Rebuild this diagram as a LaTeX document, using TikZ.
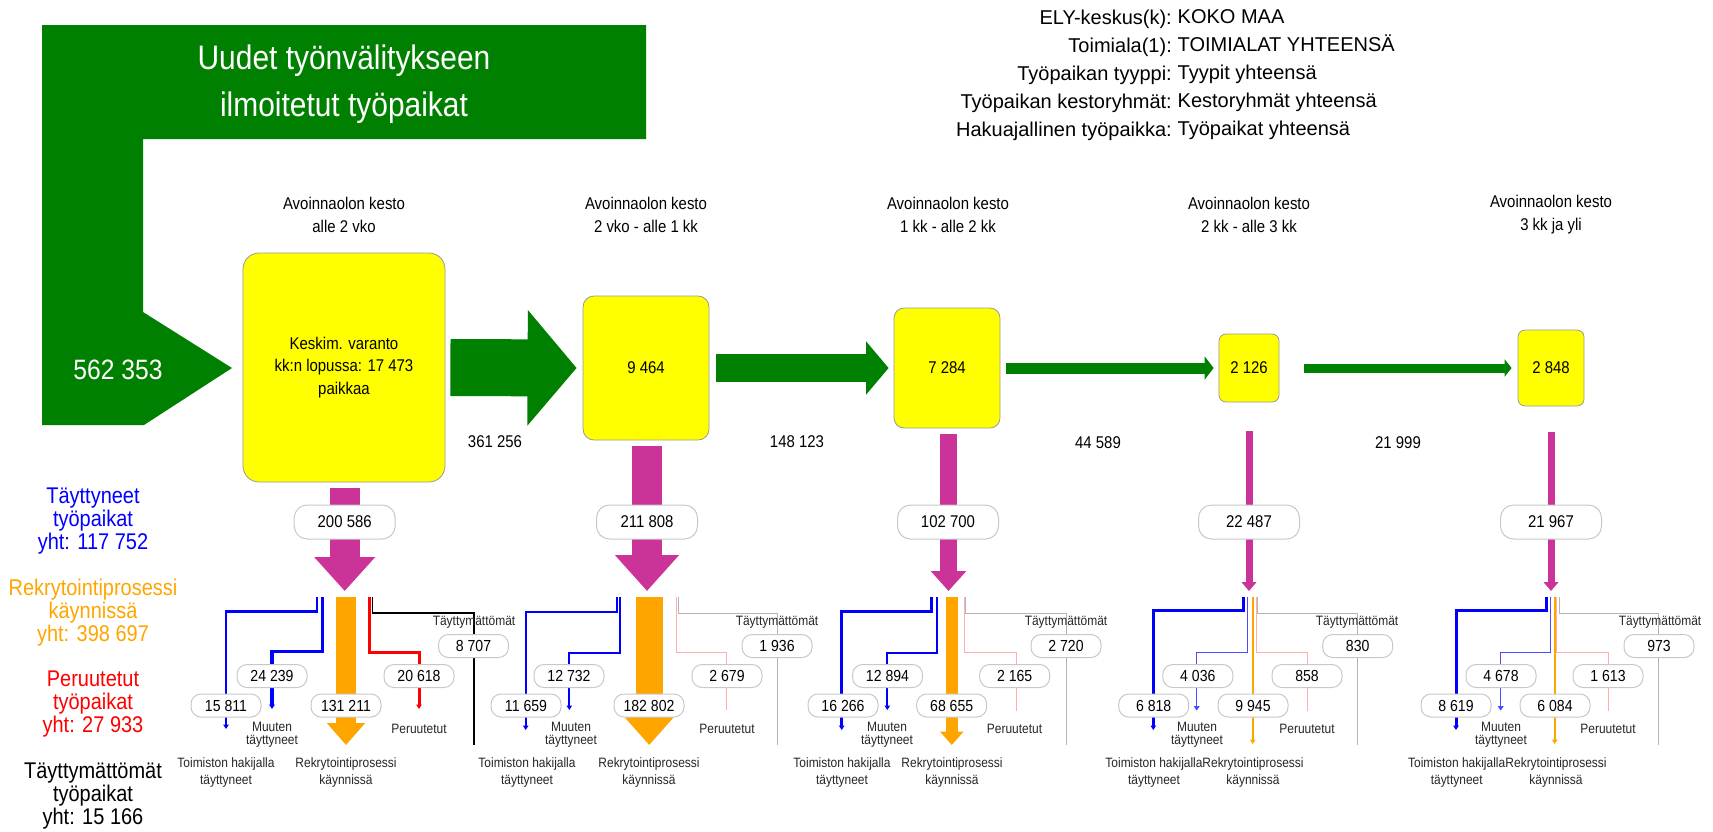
\documentclass[tikz,border=0pt]{standalone}
\usepackage{fontspec}
\setmainfont[FakeStretch=0.88]{Liberation Sans}
\newfontfamily\plainfont{Liberation Sans}
\usetikzlibrary{arrows.meta}
\definecolor{grn}{RGB}{0,128,0}
\definecolor{mag}{RGB}{204,51,153}
\definecolor{yel}{RGB}{255,255,0}
\definecolor{org}{RGB}{255,165,0}
\definecolor{blu}{RGB}{0,0,255}
\definecolor{rd}{RGB}{255,0,0}
\definecolor{pnk}{RGB}{255,175,175}
\definecolor{lgray}{RGB}{180,180,180}
\definecolor{boxline}{RGB}{200,200,200}
\newcommand\brpath[6]{%
  \coordinate (#2s) at (#3,597);
  \coordinate (#2e) at (#5,#6);
  \draw[#1] (#2s) -- (#3,#4) -- (#5,#4) -- (#2e);}
\begin{document}
\begin{tikzpicture}[x=1pt,y=-1pt,
  ybox/.style={draw=black!40, line width=0.8pt, fill=yel, inner sep=0pt, align=center, font=\fontsize{17}{22.5}\selectfont},
  biglab/.style={draw=boxline, line width=1pt, fill=white, rounded corners=13pt, minimum width=101pt, minimum height=34pt, inner sep=0pt, font=\fontsize{17}{18}\selectfont},
  smalllab/.style={draw=boxline, line width=1pt, fill=white, rounded corners=10pt, minimum width=70pt, minimum height=23pt, inner sep=0pt, font=\fontsize{16}{16}\selectfont},
  hdr/.style={align=center, font=\fontsize{17}{23}\selectfont},
  flowlab/.style={font=\fontsize{17}{18}\selectfont},
  smalltxt/.style={align=center, text=black!85, font=\fontsize{13.6}{17}\selectfont},
  tighttxt/.style={align=center, text=black!85, font=\fontsize{13.6}{12.7}\selectfont},
  legend/.style={align=center, font=\fontsize{22.7}{22.7}\selectfont},
  meta/.style={inner sep=0pt, font=\plainfont\fontsize{20}{28}\selectfont},
  arrtip/.style={-{Triangle[width=5.5pt,length=4.5pt]}},
  bluebr/.style={draw=blu, line join=miter},
  redbr/.style={draw=rd, line join=miter},
  pinkbr/.style={draw=pnk, line width=1pt, line join=miter},
  graybr/.style={draw=lgray, line width=1pt, line join=miter},
  greenarrow/.style={draw=grn},
  magarrow/.style={draw=mag},
  orgarrow/.style={draw=org}
]
\useasboundingbox (0,0) rectangle (1713,831);

% big green inflow shape
\fill[grn] (42,25) -- (646,25) -- (646,139) -- (143,139) -- (143,312) -- (232,368) -- (144,425) -- (42,425) -- cycle;
\node[text=white, align=center, font=\fontsize{34}{47}\selectfont] (title) at (344,84) {Uudet työnvälitykseen\\ilmoitetut työpaikat};
\node[text=white, font=\fontsize{28}{30}\selectfont] (total) at (118,370) {562 353};

% top right meta
\node[meta, anchor=east, align=right] (metaL) at (1172,75) {ELY-keskus(k):\\Toimiala(1):\\Työpaikan tyyppi:\\Työpaikan kestoryhmät:\\Hakuajallinen työpaikka:};
\node[meta, anchor=west, align=left] (metaR) at (1177.5,75) {KOKO MAA\\TOIMIALAT YHTEENSÄ\\Tyypit yhteensä\\Kestoryhmät yhteensä\\Työpaikat yhteensä};

% column headers
\node[hdr] (h1) at (344,214.5) {Avoinnaolon kesto\\alle 2 vko};
\node[hdr] (h2) at (646,214.5) {Avoinnaolon kesto\\2 vko - alle 1 kk};
\node[hdr] (h3) at (948,214.5) {Avoinnaolon kesto\\1 kk - alle 2 kk};
\node[hdr] (h4) at (1249,214.5) {Avoinnaolon kesto\\2 kk - alle 3 kk};
\node[hdr] (h5) at (1551,214.5) {Avoinnaolon kesto\\3 kk ja yli};

% yellow boxes
\node[ybox, rounded corners=16pt, minimum width=202pt, minimum height=229pt] (y1) at (344,367.5) {Keskim. varanto\\kk:n lopussa: 17 473\\paikkaa};
\node[ybox, rounded corners=11pt, minimum width=126pt, minimum height=144pt] (y2) at (646,368) {9 464};
\node[ybox, rounded corners=10pt, minimum width=106pt, minimum height=120pt] (y3) at (947,368) {7 284};
\node[ybox, rounded corners=7pt, minimum width=60pt, minimum height=68pt] (y4) at (1249,368) {2 126};
\node[ybox, rounded corners=7pt, minimum width=66pt, minimum height=76pt] (y5) at (1551,368) {2 848};

% green flow arrows
\draw[greenarrow, line width=57pt, -{Triangle[width=113pt,length=49pt]}] ([xshift=5pt]y1.east) -- ([xshift=-6pt]y2.west);
\draw[greenarrow, line width=28pt, -{Triangle[width=52pt,length=22.5pt]}] ([xshift=7pt]y2.east) -- ([xshift=-5pt]y3.west);
\draw[greenarrow, line width=11pt, -{Triangle[width=23pt,length=9pt]}] ([xshift=6pt]y3.east) -- ([xshift=-5pt]y4.west);
\draw[greenarrow, line width=9pt, -{Triangle[width=17pt,length=7pt]}] ([xshift=25pt]y4.east) -- ([xshift=-6pt]y5.west);

\node[flowlab] (f1) at (495,442) {361 256};
\node[flowlab] (f2) at (797,442) {148 123};
\node[flowlab] (f3) at (1098,443) {44 589};
\node[flowlab] (f4) at (1398,443) {21 999};

% magenta outflow arrows
\coordinate (m1e) at (344.7,591);
\coordinate (m2e) at (647,591);
\coordinate (m3e) at (948.5,591);
\coordinate (m4e) at (1249,591);
\coordinate (m5e) at (1551,591);
\draw[magarrow, line width=30pt, -{Triangle[width=59pt,length=34pt]}] ([xshift=0.7pt,yshift=-6pt]y1.south) -- (m1e);
\draw[magarrow, line width=30pt, -{Triangle[width=62pt,length=36pt]}] ([xshift=1pt,yshift=-6pt]y2.south) -- (m2e);
\draw[magarrow, line width=17pt, -{Triangle[width=34.4pt,length=20pt]}] ([xshift=1.5pt,yshift=-6pt]y3.south) -- (m3e);
\draw[magarrow, line width=7pt, -{Triangle[width=14.6pt,length=9pt]}] ([yshift=-29pt]y4.south) -- (m4e);
\draw[magarrow, line width=7pt, -{Triangle[width=14.6pt,length=9pt]}] ([yshift=-26pt]y5.south) -- (m5e);

\node[biglab] (o1) at (344.7,522) {200 586};
\node[biglab] (o2) at (647,522) {211 808};
\node[biglab] (o3) at (948,522) {102 700};
\node[biglab] (o4) at (1249,522) {22 487};
\node[biglab] (o5) at (1551,522) {21 967};

% ---------- column 1 branches
\brpath{bluebr, line width=2.5pt, arrtip}{c1a}{317}{611.5}{226}{729}
\brpath{bluebr, line width=3.5pt, arrtip}{c1b}{322.5}{651.5}{272}{709}
\brpath{redbr, line width=3pt, arrtip}{c1d}{369}{652}{419}{709}
\brpath{draw=black, line width=1.3pt, line join=miter}{c1u}{372.7}{613}{474}{745}
\coordinate (c1os) at (346,597); \coordinate (c1oe) at (346,745);
\draw[orgarrow, line width=20pt, -{Triangle[width=37pt,length=22pt]}] (c1os) -- (c1oe);
% ---------- column 2
\brpath{bluebr, line width=2pt, arrtip}{c2a}{616.7}{611.7}{525.7}{730}
\brpath{bluebr, line width=2pt, arrtip}{c2b}{620}{652.7}{569.3}{710}
\brpath{pinkbr}{c2d}{676.7}{652.7}{726.7}{710}
\brpath{graybr}{c2u}{678}{613}{777}{745}
\coordinate (c2os) at (649.2,597); \coordinate (c2oe) at (649.2,745);
\draw[orgarrow, line width=27pt, -{Triangle[width=48.3pt,length=28.3pt]}] (c2os) -- (c2oe);
% ---------- column 3
\brpath{bluebr, line width=2.5pt, arrtip}{c3a}{931.7}{611.7}{841.7}{730}
\brpath{bluebr, line width=2pt, arrtip}{c3b}{937.3}{652.7}{887.3}{710}
\brpath{pinkbr}{c3d}{964}{652.7}{1016}{710.7}
\brpath{graybr}{c3u}{965.5}{613.3}{1066}{745}
\coordinate (c3os) at (951.8,597); \coordinate (c3oe) at (951.8,745);
\draw[orgarrow, line width=11.7pt, -{Triangle[width=22.6pt,length=13.3pt]}] (c3os) -- (c3oe);
% ---------- column 4
\brpath{bluebr, line width=2.5pt, arrtip}{c4a}{1243.3}{610.7}{1153.3}{730}
\brpath{draw=blu!70, line width=1.5pt, line join=miter, arrtip}{c4b}{1247.3}{652.7}{1196.7}{710.7}
\brpath{pinkbr}{c4d}{1256}{652.7}{1307.3}{710.7}
\brpath{graybr}{c4u}{1257.7}{613.3}{1357.3}{745}
\coordinate (c4os) at (1252.7,597); \coordinate (c4oe) at (1252.7,744);
\draw[orgarrow, line width=2pt, arrtip] (c4os) -- (c4oe);
% ---------- column 5
\brpath{bluebr, line width=3pt, arrtip}{c5a}{1546.7}{610.7}{1456}{730}
\brpath{draw=blu!70, line width=1.5pt, line join=miter, arrtip}{c5b}{1550.7}{652.7}{1500.7}{710.7}
\brpath{pinkbr}{c5d}{1556.7}{652.7}{1608.3}{710.7}
\brpath{graybr}{c5u}{1559}{613.3}{1658.7}{745}
\coordinate (c5os) at (1554.7,597); \coordinate (c5oe) at (1554.7,744);
\draw[orgarrow, line width=2pt, arrtip] (c5os) -- (c5oe);

% ---------- lower labels
\node[smalllab] (l1a) at (226,705.5) {15 811};
\node[smalllab] (l1b) at (272,676) {24 239};
\node[smalllab] (l1o) at (346,705.5) {131 211};
\node[smalllab] (l1d) at (419,676) {20 618};
\node[smalllab] (l1u) at (473.5,646) {8 707};
\node[smalllab] (l2a) at (526,705.5) {11 659};
\node[smalllab] (l2b) at (569,676) {12 732};
\node[smalllab] (l2o) at (649,705.5) {182 802};
\node[smalllab] (l2d) at (727,676) {2 679};
\node[smalllab] (l2u) at (777,646) {1 936};
\node[smalllab] (l3a) at (843,705.5) {16 266};
\node[smalllab] (l3b) at (887.5,676) {12 894};
\node[smalllab] (l3o) at (951.7,705.5) {68 655};
\node[smalllab] (l3d) at (1014.7,676) {2 165};
\node[smalllab] (l3u) at (1066,646) {2 720};
\node[smalllab] (l4a) at (1153.7,705.5) {6 818};
\node[smalllab] (l4b) at (1197.8,676) {4 036};
\node[smalllab] (l4o) at (1253,705.5) {9 945};
\node[smalllab] (l4d) at (1307,676) {858};
\node[smalllab] (l4u) at (1357.7,646) {830};
\node[smalllab] (l5a) at (1456,705.5) {8 619};
\node[smalllab] (l5b) at (1501,676) {4 678};
\node[smalllab] (l5o) at (1555,705.5) {6 084};
\node[smalllab] (l5d) at (1608,676) {1 613};
\node[smalllab] (l5u) at (1659,646) {973};

% ---------- lower texts
\node[smalltxt] (u1) at (474,622) {Täyttymättömät};
\node[smalltxt] (u2) at (777,622) {Täyttymättömät};
\node[smalltxt] (u3) at (1066,622) {Täyttymättömät};
\node[smalltxt] (u4) at (1357,622) {Täyttymättömät};
\node[smalltxt] (u5) at (1660,622) {Täyttymättömät};
\node[tighttxt] (mu1) at (272,735) {Muuten\\täyttyneet};
\node[tighttxt] (mu2) at (571,735) {Muuten\\täyttyneet};
\node[tighttxt] (mu3) at (887,735) {Muuten\\täyttyneet};
\node[tighttxt] (mu4) at (1197,735) {Muuten\\täyttyneet};
\node[tighttxt] (mu5) at (1501,735) {Muuten\\täyttyneet};
\node[smalltxt] (p1) at (419,729) {Peruutetut};
\node[smalltxt] (p2) at (727,729) {Peruutetut};
\node[smalltxt] (p3) at (1014.5,729) {Peruutetut};
\node[smalltxt] (p4) at (1307,729) {Peruutetut};
\node[smalltxt] (p5) at (1608,729) {Peruutetut};
\node[smalltxt] (t1) at (226,772.5) {Toimiston hakijalla\\täyttyneet};
\node[smalltxt] (t2) at (527,772.5) {Toimiston hakijalla\\täyttyneet};
\node[smalltxt] (t3) at (842,772.5) {Toimiston hakijalla\\täyttyneet};
\node[smalltxt] (t4) at (1154,772.5) {Toimiston hakijalla\\täyttyneet};
\node[smalltxt] (t5) at (1456.7,772.5) {Toimiston hakijalla\\täyttyneet};
\node[smalltxt] (r1) at (346,772.5) {Rekrytointiprosessi\\käynnissä};
\node[smalltxt] (r2) at (649,772.5) {Rekrytointiprosessi\\käynnissä};
\node[smalltxt] (r3) at (952,772.5) {Rekrytointiprosessi\\käynnissä};
\node[smalltxt] (r4) at (1253,772.5) {Rekrytointiprosessi\\käynnissä};
\node[smalltxt] (r5) at (1556,772.5) {Rekrytointiprosessi\\käynnissä};

% ---------- legend
\node[legend, text=blu] (legT) at (93,521) {Täyttyneet\\työpaikat\\yht: 117 752};
\node[legend, text=org] (legR) at (93,612.7) {Rekrytointiprosessi\\käynnissä\\yht: 398 697};
\node[legend, text=rd] (legP) at (93,704) {Peruutetut\\työpaikat\\yht: 27 933};
\node[legend] (legU) at (93,796) {Täyttymättömät\\työpaikat\\yht: 15 166};
\end{tikzpicture}
\end{document}
